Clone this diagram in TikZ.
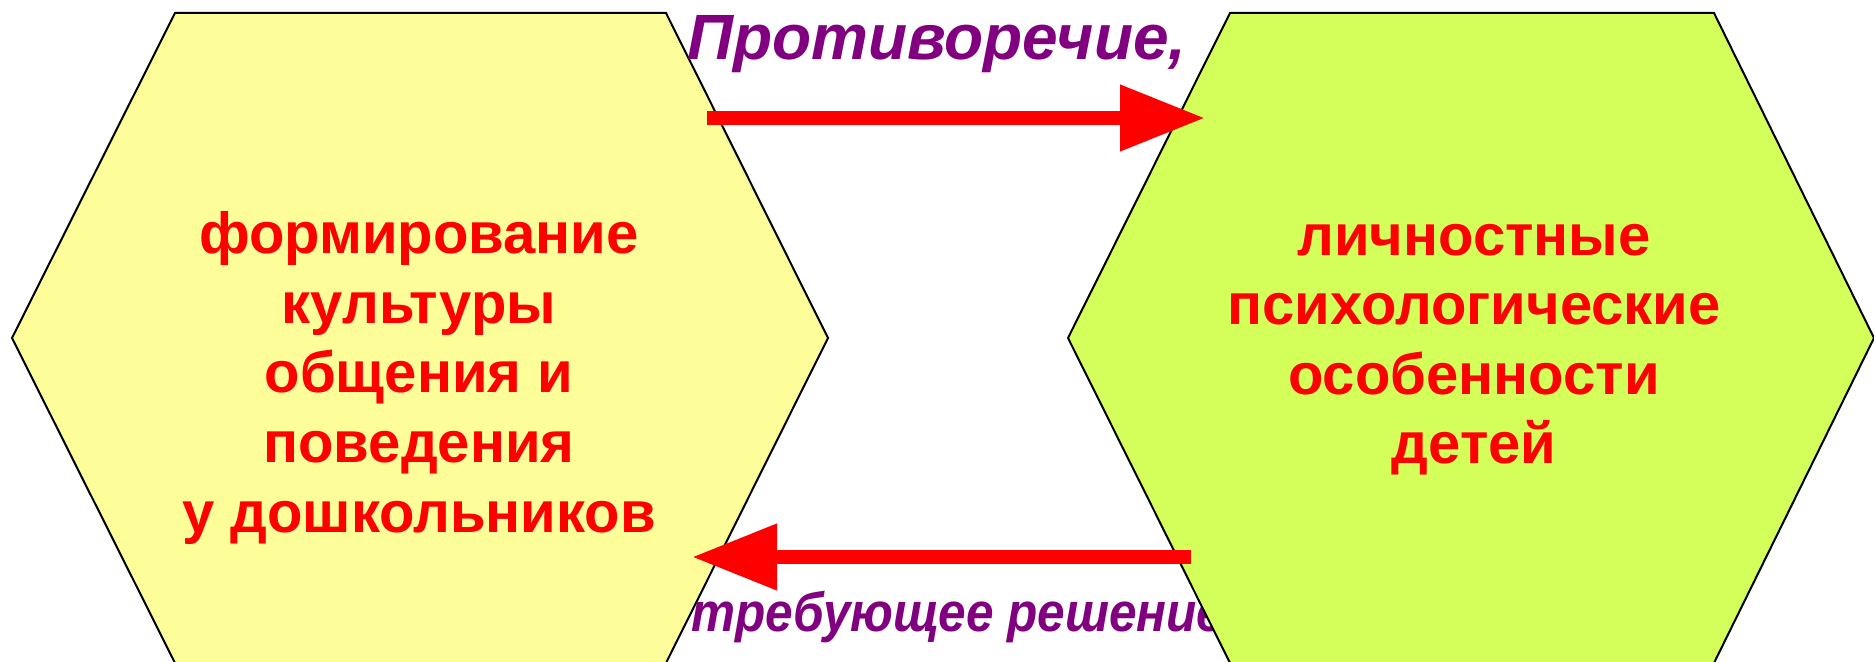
\documentclass[tikz,border=0pt]{standalone}
\usepackage{fontspec}
\setmainfont{Liberation Sans}
\newfontfamily\narrowfont[FakeStretch=0.9]{Liberation Sans}
\usetikzlibrary{arrows.meta}
\definecolor{paleyellow}{HTML}{FDFD9A}
\definecolor{limegreen}{HTML}{D4FE5A}
\definecolor{plum}{HTML}{800080}

\begin{document}
\begin{tikzpicture}[x=0.5pt,y=-0.5pt,
    hex/.style={draw=black,line width=1pt},
    hextext/.style={text=red,font=\fontsize{29}{34.8}\selectfont\bfseries,align=center,inner sep=0pt},
    purpletext/.style={text=plum,font=\fontsize{32}{36}\selectfont\bfseries\itshape,inner sep=0pt},
    bigarrow/.style={-{Triangle[length=42.5pt,width=31.5pt]},red,line width=7pt}]
    \useasboundingbox (0,0) rectangle (1874,662);
    % left hexagon
    \draw[hex,fill=paleyellow] (12,338) -- (175,13) -- (666,13) -- (828,338) -- (666,663) -- (175,663) -- cycle;
    \node[hextext,anchor=base] (culture) at (419,532) {формирование\\культуры\\общения и\\поведения\\у дошкольников};
    \node[purpletext,font=\narrowfont\fontsize{27.5}{36}\selectfont\bfseries\itshape,anchor=base west] (solve) at (691,631) {требующее решение};
    % right hexagon
    \draw[hex,fill=limegreen] (1068,338) -- (1230,13) -- (1714,13) -- (1874,338) -- (1714,663) -- (1230,663) -- cycle;
    \node[hextext,anchor=base] (traits) at (1474,464) {личностные\\психологические\\особенности\\детей};
    \node[purpletext,anchor=base] (contra) at (937,60) {Противоречие,};
    % arrows
    \coordinate (top1) at (707,118);
    \coordinate (top2) at (1205,118);
    \coordinate (bot1) at (1191,557);
    \coordinate (bot2) at (692,557);
    \draw[bigarrow] (top1) -- (top2);
    \draw[bigarrow] (bot1) -- (bot2);
\end{tikzpicture}
\end{document}
